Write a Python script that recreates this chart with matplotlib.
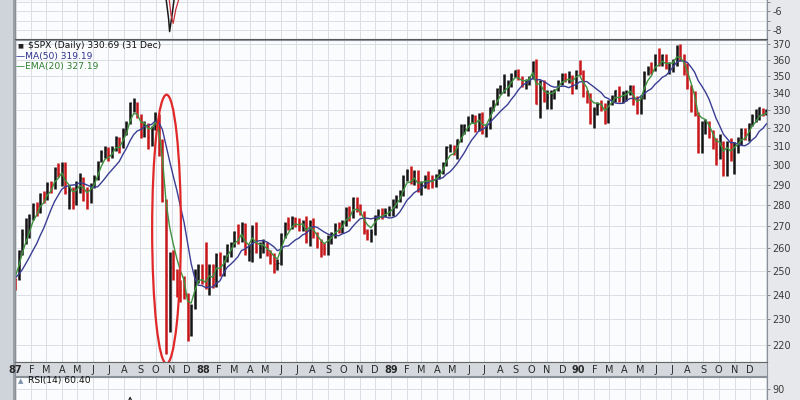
import numpy as np
import pandas as pd
import matplotlib
matplotlib.use("Agg")
import matplotlib.pyplot as plt
import matplotlib.dates as mdates
from matplotlib.patches import Ellipse, Rectangle
from matplotlib.ticker import FixedLocator, NullLocator, FixedFormatter

# ---------------- data (weekly bars, week-ending Fridays) ----------------
first_week = "1986-10-03"
warmup_close = [233.71, 235.48, 238.84, 238.26, 243.98, 245.77, 243.21, 245.86,
                249.22, 251.17, 247.35, 249.73, 246.92]

hi87 = [247, 259, 269, 274.1, 276, 281, 281.8, 286, 287, 291.5, 292, 299, 301.4,
        301.9, 302, 290, 289, 292, 296, 294, 289, 291, 295, 302.5, 308, 310,
        309.5, 310, 315.5, 315, 320, 324, 334.5, 336.8, 335, 328, 324, 323, 321,
        329, 328.1, 314, 283, 258.4, 259, 251, 246, 248, 240.5, 236, 251, 253, 253]
lo87 = [241.9, 246, 257, 262, 264.5, 273, 274.8, 276.5, 281, 282.5, 286, 288, 294,
        289.5, 285.5, 278, 278.2, 280, 286, 282, 278.2, 281, 288.5, 292.5, 302, 304,
        302.5, 304, 307.5, 306.5, 309, 316, 322, 329, 325.5, 314.5, 315, 308.6, 310,
        319, 305, 281.8, 216.5, 225, 246, 239, 237, 238, 221.5, 223.5, 234, 245, 244.5]
cl87 = [246.45, 258.73, 266.28, 270.10, 274.08, 280.04, 279.70, 285.48, 284.20,
        290.66, 289.89, 298.17, 296.13, 300.46, 286.50, 286.91, 281.52, 288.03,
        293.37, 287.43, 282.16, 290.10, 293.45, 301.62, 306.97, 308.64, 305.63,
        308.37, 314.59, 309.27, 318.66, 323.00, 333.99, 334.84, 327.04, 316.70,
        321.98, 314.86, 320.16, 328.07, 311.07, 282.70, 248.22, 251.79, 250.41,
        245.64, 242.00, 240.34, 223.92, 235.32, 249.16, 252.03, 247.08]

hi88 = [263, 253, 253, 258, 258.5, 257, 262, 263, 268, 271, 272, 271.5, 262, 270.5,
        272, 263, 264, 263, 259, 258, 255, 267, 272, 274.5, 275, 274.5, 274, 273, 275,
        273, 274, 267.5, 264, 262.5, 266, 267.5, 271.5, 272, 273, 279, 279.5, 284,
        284, 280.5, 277.5, 269, 269, 275.5, 278, 278.5, 278.5, 279.5]
lo88 = [242.5, 240, 242.6, 243, 248, 248, 254, 256, 260.5, 262, 263, 257, 254.5, 254,
        258, 255.5, 258, 256.5, 253, 248.9, 250.5, 252.5, 264.5, 268.5, 269, 269.5,
        268, 268, 262.5, 260.8, 264.5, 260, 256, 256.9, 257, 262, 264.5, 267, 267,
        270, 272.5, 274, 277, 275.5, 266.5, 263.5, 263, 266, 273.5, 273.5, 274.5, 275]
cl88 = [243.40, 252.05, 246.50, 257.07, 250.96, 255.95, 261.61, 262.46, 267.30,
        264.94, 271.12, 258.51, 258.89, 269.43, 259.77, 260.14, 261.33, 257.48,
        256.78, 253.02, 253.42, 266.45, 271.26, 270.68, 273.78, 273.50, 270.02,
        272.05, 263.50, 272.02, 266.40, 262.55, 260.24, 259.68, 264.88, 266.84,
        270.65, 269.77, 271.91, 278.07, 275.22, 283.66, 278.53, 276.31, 267.92,
        266.47, 267.23, 274.93, 277.03, 276.29, 276.87, 277.72]

hi89 = [283, 285, 287.5, 295, 298, 299.5, 297.5, 297.5, 292, 295, 297, 295, 295.5,
        298, 302, 310, 311.5, 311, 314, 322, 322.5, 326.5, 328, 327.5, 328.5, 329,
        322, 332, 336, 343, 345, 351.5, 347.5, 352, 354, 354.5, 350, 348.5, 350,
        359.5, 360.5, 348, 348, 342, 341.5, 342.5, 348, 352, 352, 353, 350.5, 353.5]
lo89 = [275, 278.5, 281.5, 284.5, 292, 290.5, 290, 286.5, 285, 288.5, 288, 288.5,
        289, 293, 295.5, 299.5, 307, 305.5, 303.5, 312.5, 316.5, 318.5, 323, 318,
        318.5, 316.5, 315, 319.5, 329.5, 333, 339.5, 340, 338, 343.5, 349.5, 347.5,
        343.5, 342.5, 344.5, 348.5, 333.5, 325.8, 334.5, 331, 331, 336.5, 341, 345,
        346.5, 346, 339.5, 342.5]
cl89 = [280.67, 283.87, 286.63, 293.82, 296.97, 292.02, 296.76, 287.13, 291.18,
        292.88, 292.69, 290.91, 294.87, 297.16, 301.36, 309.61, 309.64, 307.61,
        313.84, 321.24, 321.59, 325.52, 326.69, 321.35, 328.00, 317.98, 320.64,
        331.84, 335.90, 342.15, 343.92, 344.74, 346.03, 350.52, 353.73, 348.76,
        345.06, 347.05, 349.15, 358.78, 333.65, 347.16, 335.06, 337.62, 339.10,
        341.61, 347.40, 350.63, 348.69, 350.14, 344.78, 353.40]

hi90 = [360, 354, 342, 340, 332, 335, 336, 334, 336, 339, 342, 344, 341, 342, 345,
        345, 338, 339, 353, 356, 359, 364, 367.5, 364, 364, 359, 360.5, 369.5, 369.8,
        364, 358, 345, 341, 329, 324, 325, 324, 319, 314.5, 317, 313, 313, 314.5,
        312.5, 315, 320, 320, 323, 328, 331, 332, 331.5, 330.8]
lo90 = [351, 337.5, 334, 322.5, 319.8, 327.5, 329.5, 322.5, 323, 333, 334.5, 335, 334,
        335.5, 339, 333, 327.8, 328, 336.5, 350.5, 351.5, 353, 356.5, 356.5, 354.5,
        351.5, 352.5, 356.5, 359.5, 351, 342.5, 329, 326.5, 306.5, 306.5, 316.5,
        314.5, 308.5, 300, 303.5, 294.5, 294.5, 302.5, 295.5, 306.5, 311, 313.5, 313,
        321, 323.5, 324.5, 326.5, 327.5]
cl90 = [352.20, 339.93, 339.15, 325.80, 330.92, 333.62, 332.72, 324.15, 335.54,
        337.93, 341.91, 337.22, 339.94, 340.08, 344.34, 335.12, 329.11, 338.39,
        352.00, 354.64, 354.58, 363.16, 358.71, 362.90, 355.43, 358.02, 358.42,
        367.31, 361.61, 353.44, 344.86, 335.52, 327.83, 311.51, 322.56, 323.40,
        316.83, 311.32, 306.05, 311.50, 300.03, 312.48, 304.71, 311.85, 313.74,
        317.12, 315.10, 322.22, 326.62, 326.82, 331.75, 328.29, 330.22]

# upper indicator panel (only the crash dip is inside its window)
top_dates = ["1987-10-14", "1987-10-21", "1987-10-26", "1987-10-28", "1987-11-02",
             "1987-11-06", "1987-11-12"]
top_vals = [-3.2, -4.6, -6.8, -8.2, -6.3, -4.6, -3.2]
sig_dates = ["1987-10-22", "1987-10-27", "1987-10-31", "1987-11-04", "1987-11-09",
             "1987-11-16", "1987-11-22"]
sig_vals = [-3.4, -4.6, -6.5, -7.3, -5.8, -4.5, -3.4]

# RSI panel (only the top of the range is inside the picture)
rsi_dates = ["1987-07-29", "1987-08-05", "1987-08-12", "1987-08-19", "1987-08-26"]
rsi_vals = [70, 76, 83, 77, 66]

price_ticks = list(range(220, 371, 10))
month_letters = ["J", "F", "M", "A", "M", "J", "J", "A", "S", "O", "N", "D"]
title_txt = "$SPX (Daily) 330.69 (31 Dec)"
ma_txt = "\u2014MA(50) 319.19"
ema_txt = "\u2014EMA(20) 327.19"
rsi_txt = "RSI(14) 60.40"
crash_box = (("1987-09-24", "1987-11-19"), (213, 339))

# ---------------- assemble ----------------
high = np.array(hi87 + hi88 + hi89 + hi90)
low = np.array(lo87 + lo88 + lo89 + lo90)
close = np.array(cl87 + cl88 + cl89 + cl90)
assert len(high) == len(low) == len(close)
n_all = len(warmup_close) + len(close)
weeks = pd.date_range(first_week, periods=n_all, freq="W-FRI")
all_close = pd.Series(list(warmup_close) + list(close), index=weeks)
ma50 = all_close.rolling(10).mean()
ema20 = all_close.ewm(span=4, adjust=False).mean()

xdates = weeks - pd.Timedelta(days=2)
bar_x = xdates[len(warmup_close):]
prev = all_close.values[len(warmup_close) - 1:-1]
up = close >= prev
cols = np.where(up, "#141414", "#c8161a")

# ---------------- figure ----------------
W, H = 800, 400
fig = plt.figure(figsize=(8, 4), dpi=100, facecolor="#e6e8eb")


def box(x0, y0, x1, y1):
    return [x0 / W, 1 - y1 / H, (x1 - x0) / W, (y1 - y0) / H]


fig.patches.append(Rectangle((0, 0), 13 / W, 1, transform=fig.transFigure,
                             facecolor="#cfd4da", edgecolor="none", zorder=-2))
fig.patches.append(Rectangle((13 / W, 0), 1.5 / W, 1, transform=fig.transFigure,
                             facecolor="#9aa0a8", edgecolor="none", zorder=-2))

xlim = (mdates.date2num(pd.Timestamp("1986-12-31")),
        mdates.date2num(pd.Timestamp("1991-01-03")))
face = "#fbfcfd"
gridc = "#dadfe5"
months = mdates.MonthLocator()

ax_top = fig.add_axes(box(15, -1, 767, 39))
ax = fig.add_axes(box(15, 40, 767, 362))
ax_date = fig.add_axes(box(15, 362, 767, 376))
ax_rsi = fig.add_axes(box(15, 377, 767, 497))

for a in (ax_top, ax, ax_date, ax_rsi):
    a.set_xlim(*xlim)
    a.set_facecolor(face)
    a.xaxis.set_major_locator(months)
    a.tick_params(axis="x", length=0, labelbottom=False)
    a.yaxis.tick_right()
    a.tick_params(axis="y", which="both", direction="out", length=2.5, width=0.6,
                  color="#777", labelsize=7, labelcolor="#3a3a3a", pad=1.5)
    for s in a.spines.values():
        s.set_color("#8a9098")
        s.set_linewidth(0.8)

for a in (ax_top, ax, ax_rsi):
    a.grid(True, which="major", color=gridc, linewidth=0.7)
    a.set_axisbelow(True)

# top indicator
ax_top.set_ylim(-9.0, -4.67)
ax_top.yaxis.set_major_locator(FixedLocator([-8, -7, -6, -5]))
ax_top.yaxis.set_major_formatter(FixedFormatter(["-8", "", "-6", ""]))
ax_top.plot(pd.to_datetime(top_dates), top_vals, color="#1a1a1a", lw=1.1)
ax_top.plot(pd.to_datetime(sig_dates), sig_vals, color="#c8303a", lw=0.9)
ax_top.spines["bottom"].set_color("#555")

# main price panel
ax.set_yscale("log")
ax.set_ylim(213.6, 372.6)
ax.yaxis.set_major_locator(FixedLocator(price_ticks))
ax.yaxis.set_major_formatter(FixedFormatter([str(v) for v in price_ticks]))
ax.yaxis.set_minor_locator(NullLocator())
ax.vlines(bar_x, low, high, colors=cols, linewidth=1.8)
ax.hlines(close, bar_x, bar_x + pd.Timedelta(days=2), colors=cols, linewidth=1.0)
ax.plot(xdates, ma50.values, color="#3b3d94", lw=1.0)
ax.plot(xdates, ema20.values, color="#3f923f", lw=1.0)

(d0, d1), (v0, v1) = crash_box
p0 = ax.transData.transform((mdates.date2num(pd.Timestamp(d0)), v0))
p1 = ax.transData.transform((mdates.date2num(pd.Timestamp(d1)), v1))
a0 = ax.transAxes.inverted().transform(p0)
a1 = ax.transAxes.inverted().transform(p1)
ax.add_patch(Ellipse(((a0[0] + a1[0]) / 2, (a0[1] + a1[1]) / 2), a1[0] - a0[0],
                     a1[1] - a0[1], transform=ax.transAxes, fill=False,
                     edgecolor="#e02828", linewidth=1.6, clip_on=False, zorder=5))

fig.text(28 / W, 1 - 45.5 / H, title_txt, fontsize=6.6, color="#111", va="center")
fig.text(16 / W, 1 - 56 / H, ma_txt, fontsize=6.6, color="#2f3190", va="center")
fig.text(16 / W, 1 - 66.5 / H, ema_txt, fontsize=6.6, color="#2f7f2f", va="center")
fig.text(17 / W, 1 - 45.5 / H, "\u25a0", fontsize=4.5, color="#222", va="center")

# date band
ax_date.set_facecolor("#d5d9de")
ax_date.set_ylim(0, 1)
ax_date.set_yticks([])
ax_date.spines["top"].set_color("#666")
for m in pd.date_range("1987-01-01", "1990-12-01", freq="MS"):
    if m.month == 1:
        lab, wt = m.strftime("%y"), "bold"
    else:
        lab, wt = month_letters[m.month - 1], "normal"
    ax_date.text(m, 0.45, lab, ha="center", va="center", fontsize=7,
                 color="#2a2a2a", fontweight=wt, clip_on=False, zorder=6)

# RSI panel
ax_rsi.set_ylim(0, 100)
ax_rsi.yaxis.set_major_locator(FixedLocator([90]))
ax_rsi.plot(pd.to_datetime(rsi_dates), rsi_vals, color="#222", lw=0.9)
fig.text(28 / W, 1 - 381 / H, rsi_txt, fontsize=6.6, color="#111", va="center")
fig.text(18 / W, 1 - 381 / H, "\u25b2", fontsize=5, color="#7a8fa8", va="center")

fig.savefig("out.png", dpi=100, facecolor=fig.get_facecolor())
